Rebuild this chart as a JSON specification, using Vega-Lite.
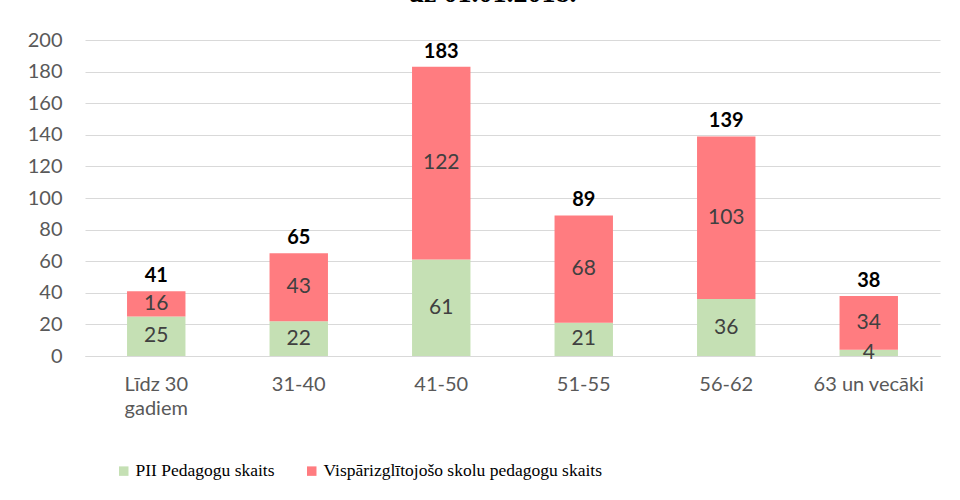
{
  "$schema": "https://vega.github.io/schema/vega-lite/v6.json",
  "autosize": {"type": "none"},
  "width": 855,
  "height": 316,
  "padding": {"left": 85, "top": 40, "right": 20, "bottom": 144},
  "background": "white",
  "config": {
    "view": {"stroke": null},
    "axisY": {
      "title": null,
      "labelOverlap": false,
      "labelFont": "Lato",
      "labelFontSize": 20,
      "labelColor": "#595959",
      "labelPadding": 23,
      "ticks": false,
      "domain": false,
      "gridColor": "#d9d9d9",
      "gridWidth": 1
    }
  },
  "title": {
    "text": "uz 01.01.2018.",
    "font": "Liberation Serif",
    "fontSize": 28,
    "fontWeight": "bold",
    "color": "#000000",
    "anchor": "middle",
    "frame": "group",
    "baseline": "alphabetic",
    "offset": 0,
    "dx": -20
  },
  "data": {
    "values": [
      {"group": "Līdz 30 gadiem", "series": "PII Pedagogu skaits", "value": 25},
      {"group": "Līdz 30 gadiem", "series": "Vispārizglītojošo skolu pedagogu skaits", "value": 16},
      {"group": "31-40", "series": "PII Pedagogu skaits", "value": 22},
      {"group": "31-40", "series": "Vispārizglītojošo skolu pedagogu skaits", "value": 43},
      {"group": "41-50", "series": "PII Pedagogu skaits", "value": 61},
      {"group": "41-50", "series": "Vispārizglītojošo skolu pedagogu skaits", "value": 122},
      {"group": "51-55", "series": "PII Pedagogu skaits", "value": 21},
      {"group": "51-55", "series": "Vispārizglītojošo skolu pedagogu skaits", "value": 68},
      {"group": "56-62", "series": "PII Pedagogu skaits", "value": 36},
      {"group": "56-62", "series": "Vispārizglītojošo skolu pedagogu skaits", "value": 103},
      {"group": "63 un vecāki", "series": "PII Pedagogu skaits", "value": 4},
      {"group": "63 un vecāki", "series": "Vispārizglītojošo skolu pedagogu skaits", "value": 34}
    ]
  },
  "encoding": {
    "x": {
      "field": "group",
      "type": "nominal",
      "sort": null,
      "scale": {"paddingInner": 0.59, "paddingOuter": 0.295},
      "axis": {
        "title": null,
        "labelAngle": 0,
        "labelFont": "Lato",
        "labelFontSize": 20,
        "labelColor": "#595959",
        "labelPadding": 18,
        "labelBaseline": "top",
        "ticks": false,
        "domainColor": "#d9d9d9",
        "labelExpr": "datum.label == 'Līdz 30 gadiem' ? ['Līdz 30', 'gadiem'] : datum.label",
        "labelLineHeight": 24
      }
    }
  },
  "layer": [
    {
      "mark": {"type": "bar"},
      "encoding": {
        "y": {
          "field": "value",
          "type": "quantitative",
          "aggregate": "sum",
          "stack": "zero",
          "scale": {"domain": [0, 200], "nice": false},
          "axis": {"values": [0, 20, 40, 60, 80, 100, 120, 140, 160, 180, 200]}
        },
        "color": {
          "field": "series",
          "type": "nominal",
          "scale": {
            "domain": ["PII Pedagogu skaits", "Vispārizglītojošo skolu pedagogu skaits"],
            "range": ["#c5e0b4", "#ff7c80"]
          },
          "legend": {
            "title": null,
            "orient": "none",
            "legendX": 30,
            "legendY": 422,
            "direction": "horizontal",
            "symbolType": "square",
            "symbolSize": 90,
            "symbolStrokeWidth": 0,
            "labelFont": "Liberation Serif",
            "labelFontSize": 17.5,
            "labelColor": "#000000",
            "labelOffset": 3,
            "columnPadding": 28,
            "labelLimit": 400
          }
        },
        "order": {"field": "series", "sort": "ascending"}
      }
    },
    {
      "transform": [
        {"stack": "value", "groupby": ["group"], "sort": [{"field": "series", "order": "ascending"}], "as": ["v0", "v1"]},
        {"fold": ["v0", "v1"], "as": ["edge", "pos"]},
        {"aggregate": [{"op": "mean", "field": "pos", "as": "mid"}], "groupby": ["group", "series", "value"]}
      ],
      "mark": {"type": "text", "font": "Lato", "fontSize": 21, "color": "#404040", "baseline": "middle"},
      "encoding": {
        "y": {"field": "mid", "type": "quantitative", "axis": {"values": [0, 20, 40, 60, 80, 100, 120, 140, 160, 180, 200]}},
        "text": {"field": "value", "type": "quantitative"}
      }
    },
    {
      "transform": [
        {"aggregate": [{"op": "sum", "field": "value", "as": "total"}], "groupby": ["group"]}
      ],
      "mark": {"type": "text", "font": "Lato", "fontSize": 20, "fontWeight": "bold", "color": "#000000", "baseline": "bottom", "dy": -5},
      "encoding": {
        "y": {"field": "total", "type": "quantitative", "axis": {"values": [0, 20, 40, 60, 80, 100, 120, 140, 160, 180, 200]}},
        "text": {"field": "total", "type": "quantitative"}
      }
    }
  ]
}
